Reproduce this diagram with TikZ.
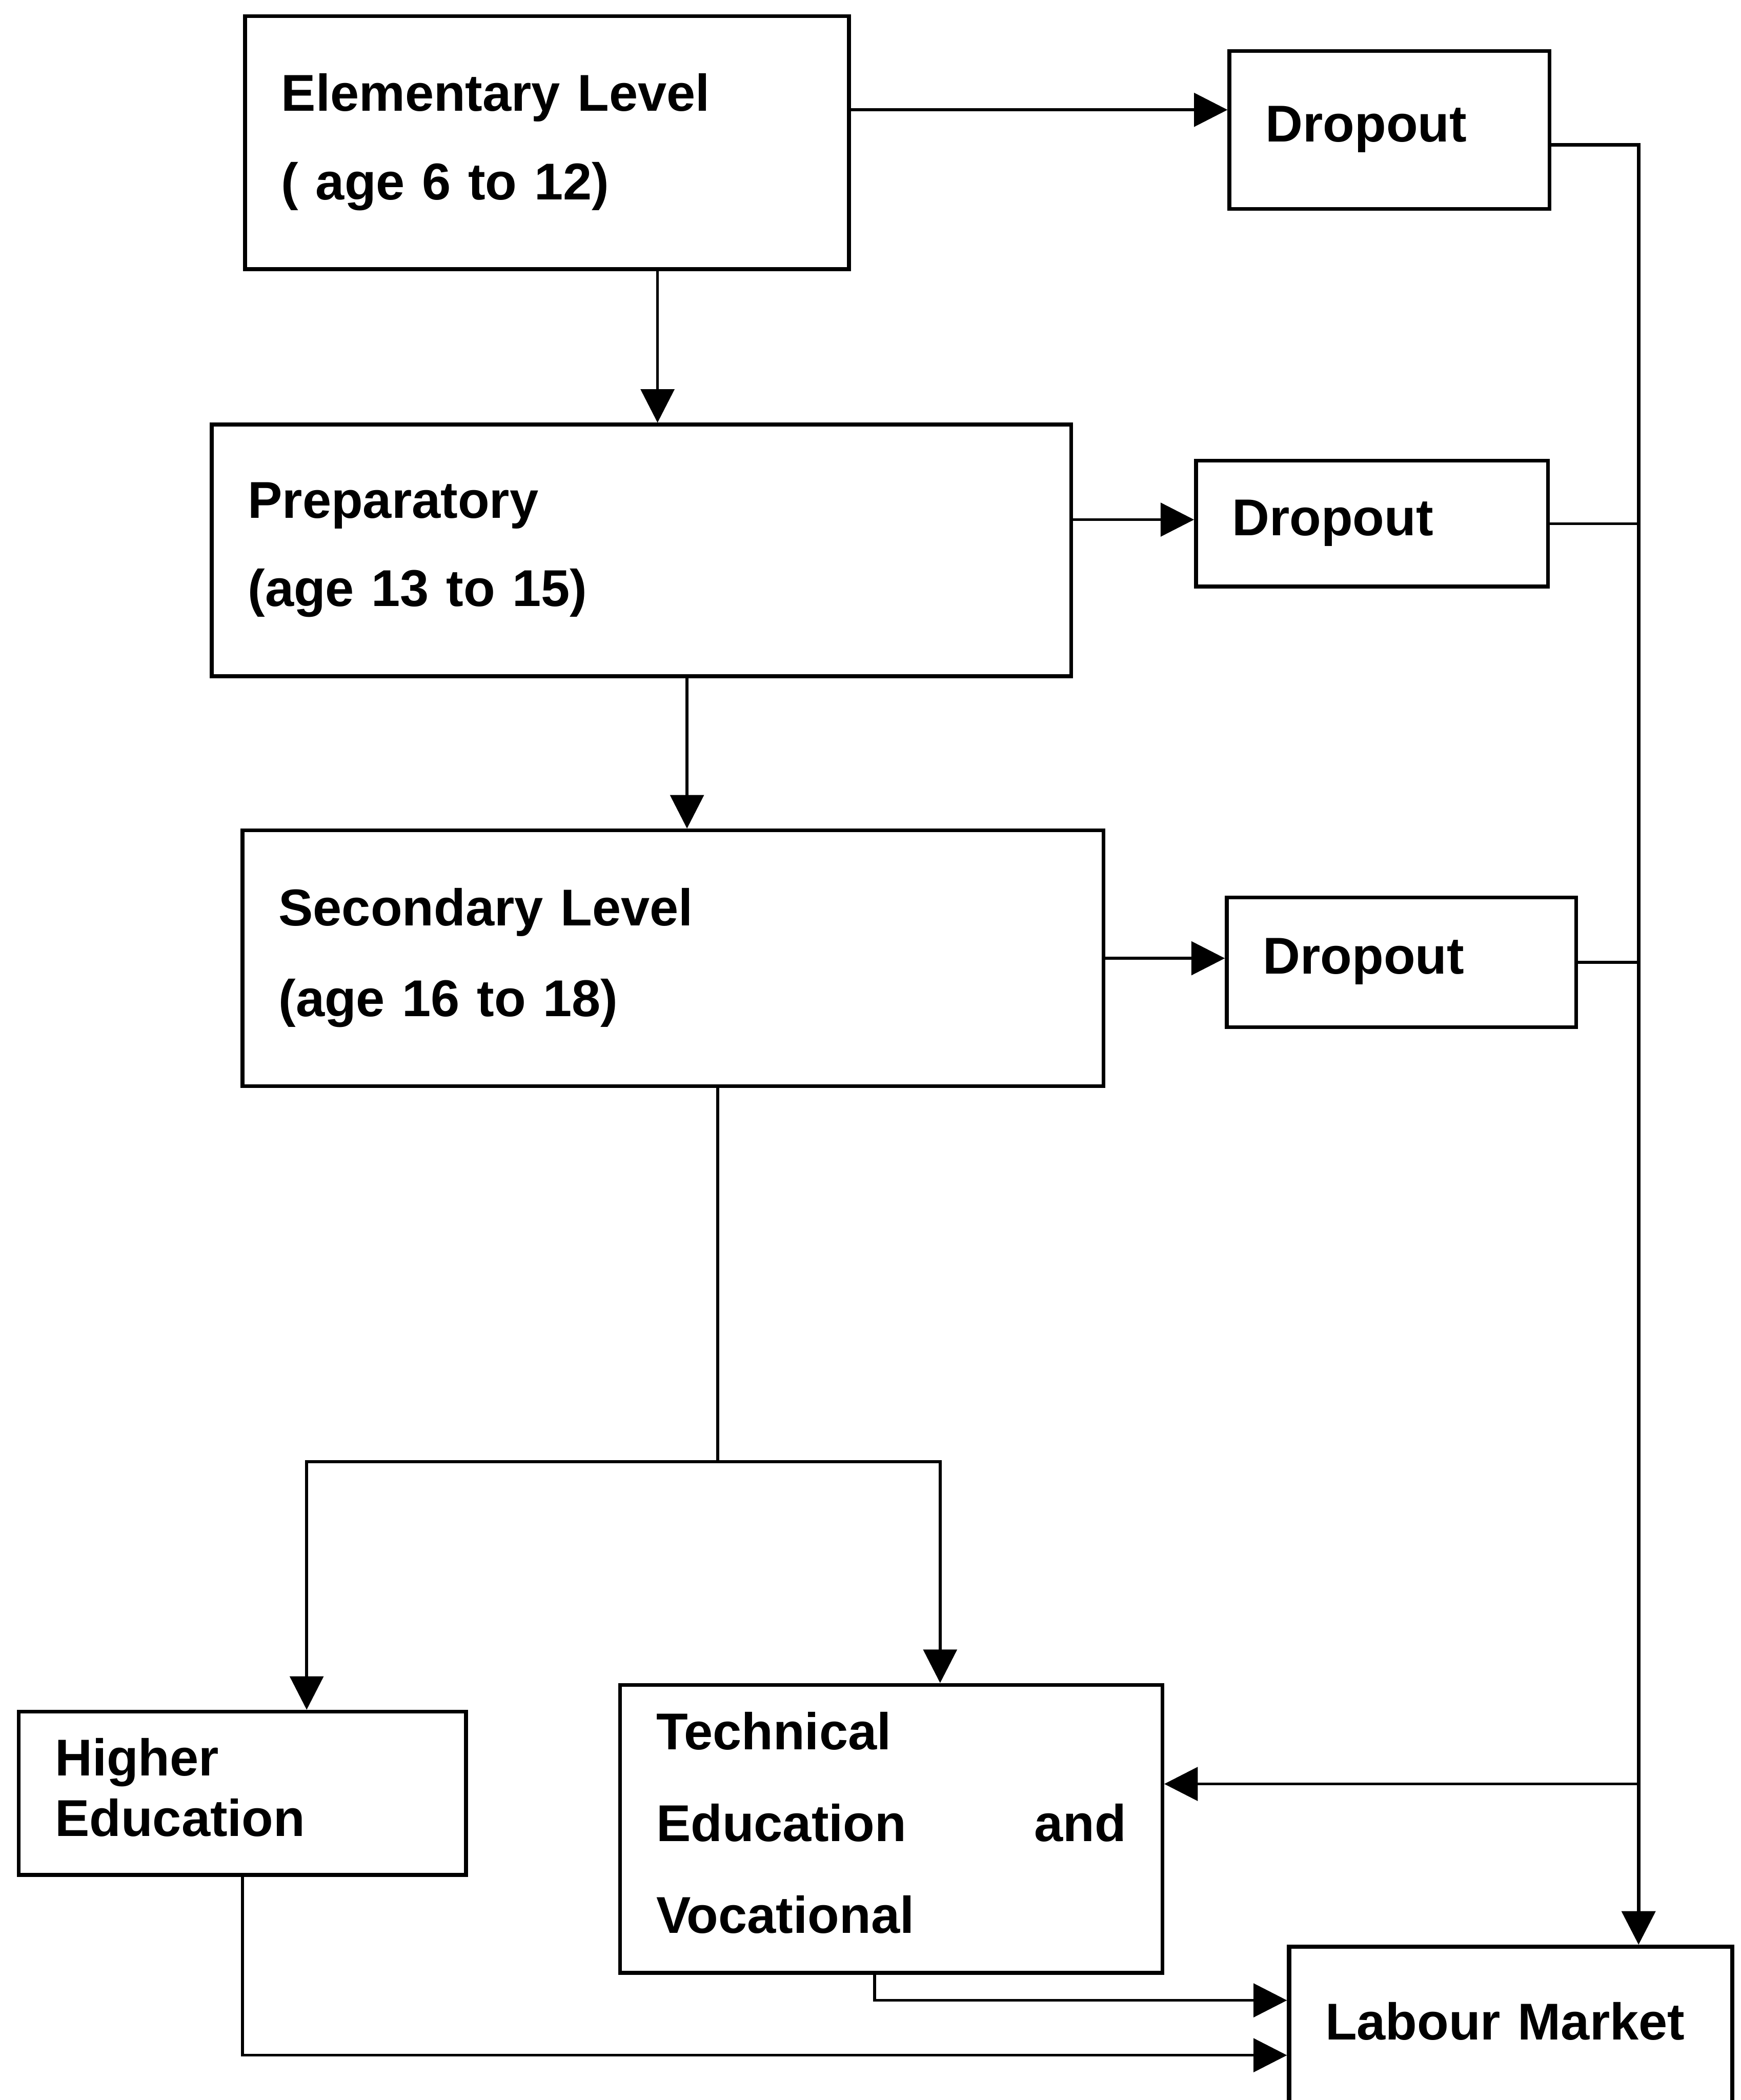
\documentclass[tikz,border=0pt]{standalone}
\usepackage{fontspec}
\setmainfont{Liberation Sans}
\usepackage{tikz}
\usetikzlibrary{arrows.meta,calc}

\begin{document}
\begin{tikzpicture}[x=0.02cm,y=-0.02cm,
  box/.style={draw,line width=1.6pt,inner xsep=0.54cm,inner ysep=0pt,align=left,
    font=\bfseries\fontsize{22}{37.5}\selectfont,
    execute at end node={\rule[-0.18cm]{0pt}{0pt}}},
  arr/.style={line width=1.2pt,-{Triangle[length=0.5cm,width=0.5cm]}},
  link/.style={line width=1.2pt}]
  \useasboundingbox (0,0) rectangle (1300,1568);
  % school levels
  \node[box,text width=7.94cm,minimum height=3.78cm] (elem) at (408.5,106.5)
    {Elementary Level\\( age 6 to 12)};
  \node[box,text width=11.76cm,minimum height=3.76cm] (prep) at (479,411)
    {Preparatory\\(age 13 to 15)};
  \node[box,text width=11.78cm,minimum height=3.82cm,
    font=\bfseries\fontsize{22}{38.7}\selectfont] (sec) at (502.5,715.5)
    {Secondary Level\\(age 16 to 18)};
  % dropouts
  \node[box,text width=3.70cm,minimum height=2.36cm] (drop1) at (1037.5,97) {Dropout};
  \node[box,text width=4.18cm,minimum height=1.88cm] (drop2) at (1024.5,391) {Dropout};
  \node[box,text width=4.14cm,minimum height=1.94cm] (drop3) at (1046.5,718.5) {Dropout};
  % after secondary
  \node[box,text width=5.60cm,minimum height=2.44cm,
    font=\bfseries\fontsize{22}{25.6}\selectfont] (higher) at (181,1339)
    {Higher\\Education};
  \node[box,text width=7.02cm,minimum height=4.30cm,
    font=\bfseries\fontsize{22}{39}\selectfont] (tech) at (665.5,1365.5)
    {Technical\\Education\hfill and\\Vocational};
  \node[box,line width=1.8pt,text width=5.54cm,minimum height=2.4cm,anchor=north west]
    (labour) at (961,1452) {Labour Market};

  \coordinate (e1) at ([yshift=0.49cm]elem.east);
  \coordinate (e2) at ([xshift=1.65cm]elem.south);
  \coordinate (p1) at ([yshift=0.46cm]prep.east);
  \coordinate (p2) at ([xshift=0.68cm]prep.south);
  \coordinate (s2) at ([xshift=0.67cm]sec.south);
  \coordinate (split) at ([yshift=-5.58cm]s2);
  \coordinate (r1) at ([yshift=-0.22cm]drop1.east);
  \coordinate (bus) at ([xshift=1.91cm]labour.north);
  \coordinate (t1) at ([yshift=0.67cm]tech.east);
  \coordinate (l1) at ([yshift=0.4cm]labour.west);
  \coordinate (l2) at ([yshift=-0.42cm]labour.west);

  \draw[arr] (e1) -- (e1 -| drop1.west);
  \draw[arr] (e2) -- (e2 |- prep.north);
  \draw[arr] (p1) -- (p1 -| drop2.west);
  \draw[arr] (p2) -- (p2 |- sec.north);
  \draw[arr] (sec.east) -- (sec.east -| drop3.west);

  \draw[arr,line width=1.5pt] (r1) -| (bus);
  \draw[link] (drop2.east) -- (drop2.east -| bus);
  \draw[link] (drop3.east) -- (drop3.east -| bus);
  \draw[arr] (t1 -| bus) -- (t1);

  \draw[link] (s2) -- (split);
  \draw[arr] (split) -| ([xshift=0.96cm]higher.north);
  \draw[arr] (split) -| ([xshift=0.73cm]tech.north);

  \draw[arr] ([xshift=-0.25cm]tech.south) |- (l1);
  \draw[arr] (higher.south) |- (l2);
\end{tikzpicture}
\end{document}
